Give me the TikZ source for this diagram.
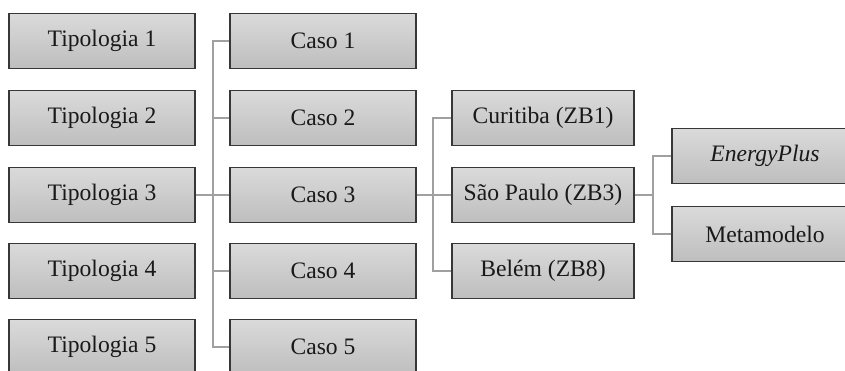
\documentclass[tikz,border=0pt]{standalone}
\usepackage{fontspec}
\setmainfont{Liberation Serif}
\definecolor{boxtop}{RGB}{218,218,218}
\definecolor{boxbot}{RGB}{190,190,190}
\definecolor{boxline}{RGB}{55,55,55}
\definecolor{linkgray}{RGB}{160,160,160}
\tikzset{
  box/.style={draw=boxline, line width=1.7pt, top color=boxtop, bottom color=boxbot,
    minimum width=186pt, minimum height=55pt, inner sep=0pt,
    font=\fontsize{23.6}{27}\selectfont, text=black!90},
  cbox/.style={box, minimum width=182pt},
  link/.style={draw=linkgray, line width=1.5pt}
}
\begin{document}
\begin{tikzpicture}[x=1pt,y=-1pt]
\useasboundingbox (0,0) rectangle (845,371);
\clip (0,0) rectangle (845,371);
% first column
\node[box] (t1) at (102,41) {Tipologia 1};
\node[box] (t2) at (102,118) {Tipologia 2};
\node[box] (t3) at (102,195) {Tipologia 3};
\node[box] (t4) at (102,271) {Tipologia 4};
\node[box] (t5) at (102,347) {Tipologia 5};
% second column
\node[box] (c1) at (323,41) {Caso 1};
\node[box] (c2) at (323,118) {Caso 2};
\node[box] (c3) at (323,195) {Caso 3};
\node[box] (c4) at (323,271) {Caso 4};
\node[box] (c5) at (323,347) {Caso 5};
% third column
\node[cbox] (z1) at (543,118) {Curitiba (ZB1)};
\node[cbox] (z3) at (543,195) {São Paulo (ZB3)};
\node[cbox] (z8) at (543,271) {Belém (ZB8)};
% fourth column
\node[box] (ep) at (765,156) {\itshape EnergyPlus};
\node[box] (mm) at (765,234) {Metamodelo};
% junctions
\coordinate (j1) at (213,195);
\coordinate (j2) at (433,195);
\coordinate (j3) at (653,195);
% connectors
\draw[link] (t3.east) -- (c3.west);
\draw[link] (c1.west) -| (j1) |- (c5.west);
\draw[link] (j1 |- c2.west) -- (c2.west);
\draw[link] (j1 |- c4.west) -- (c4.west);
\draw[link] (c3.east) -- (z3.west);
\draw[link] (z1.west) -| (j2) |- (z8.west);
\draw[link] (z3.east) -- (j3);
\draw[link] (ep.west) -| (j3) |- (mm.west);
\end{tikzpicture}
\end{document}
